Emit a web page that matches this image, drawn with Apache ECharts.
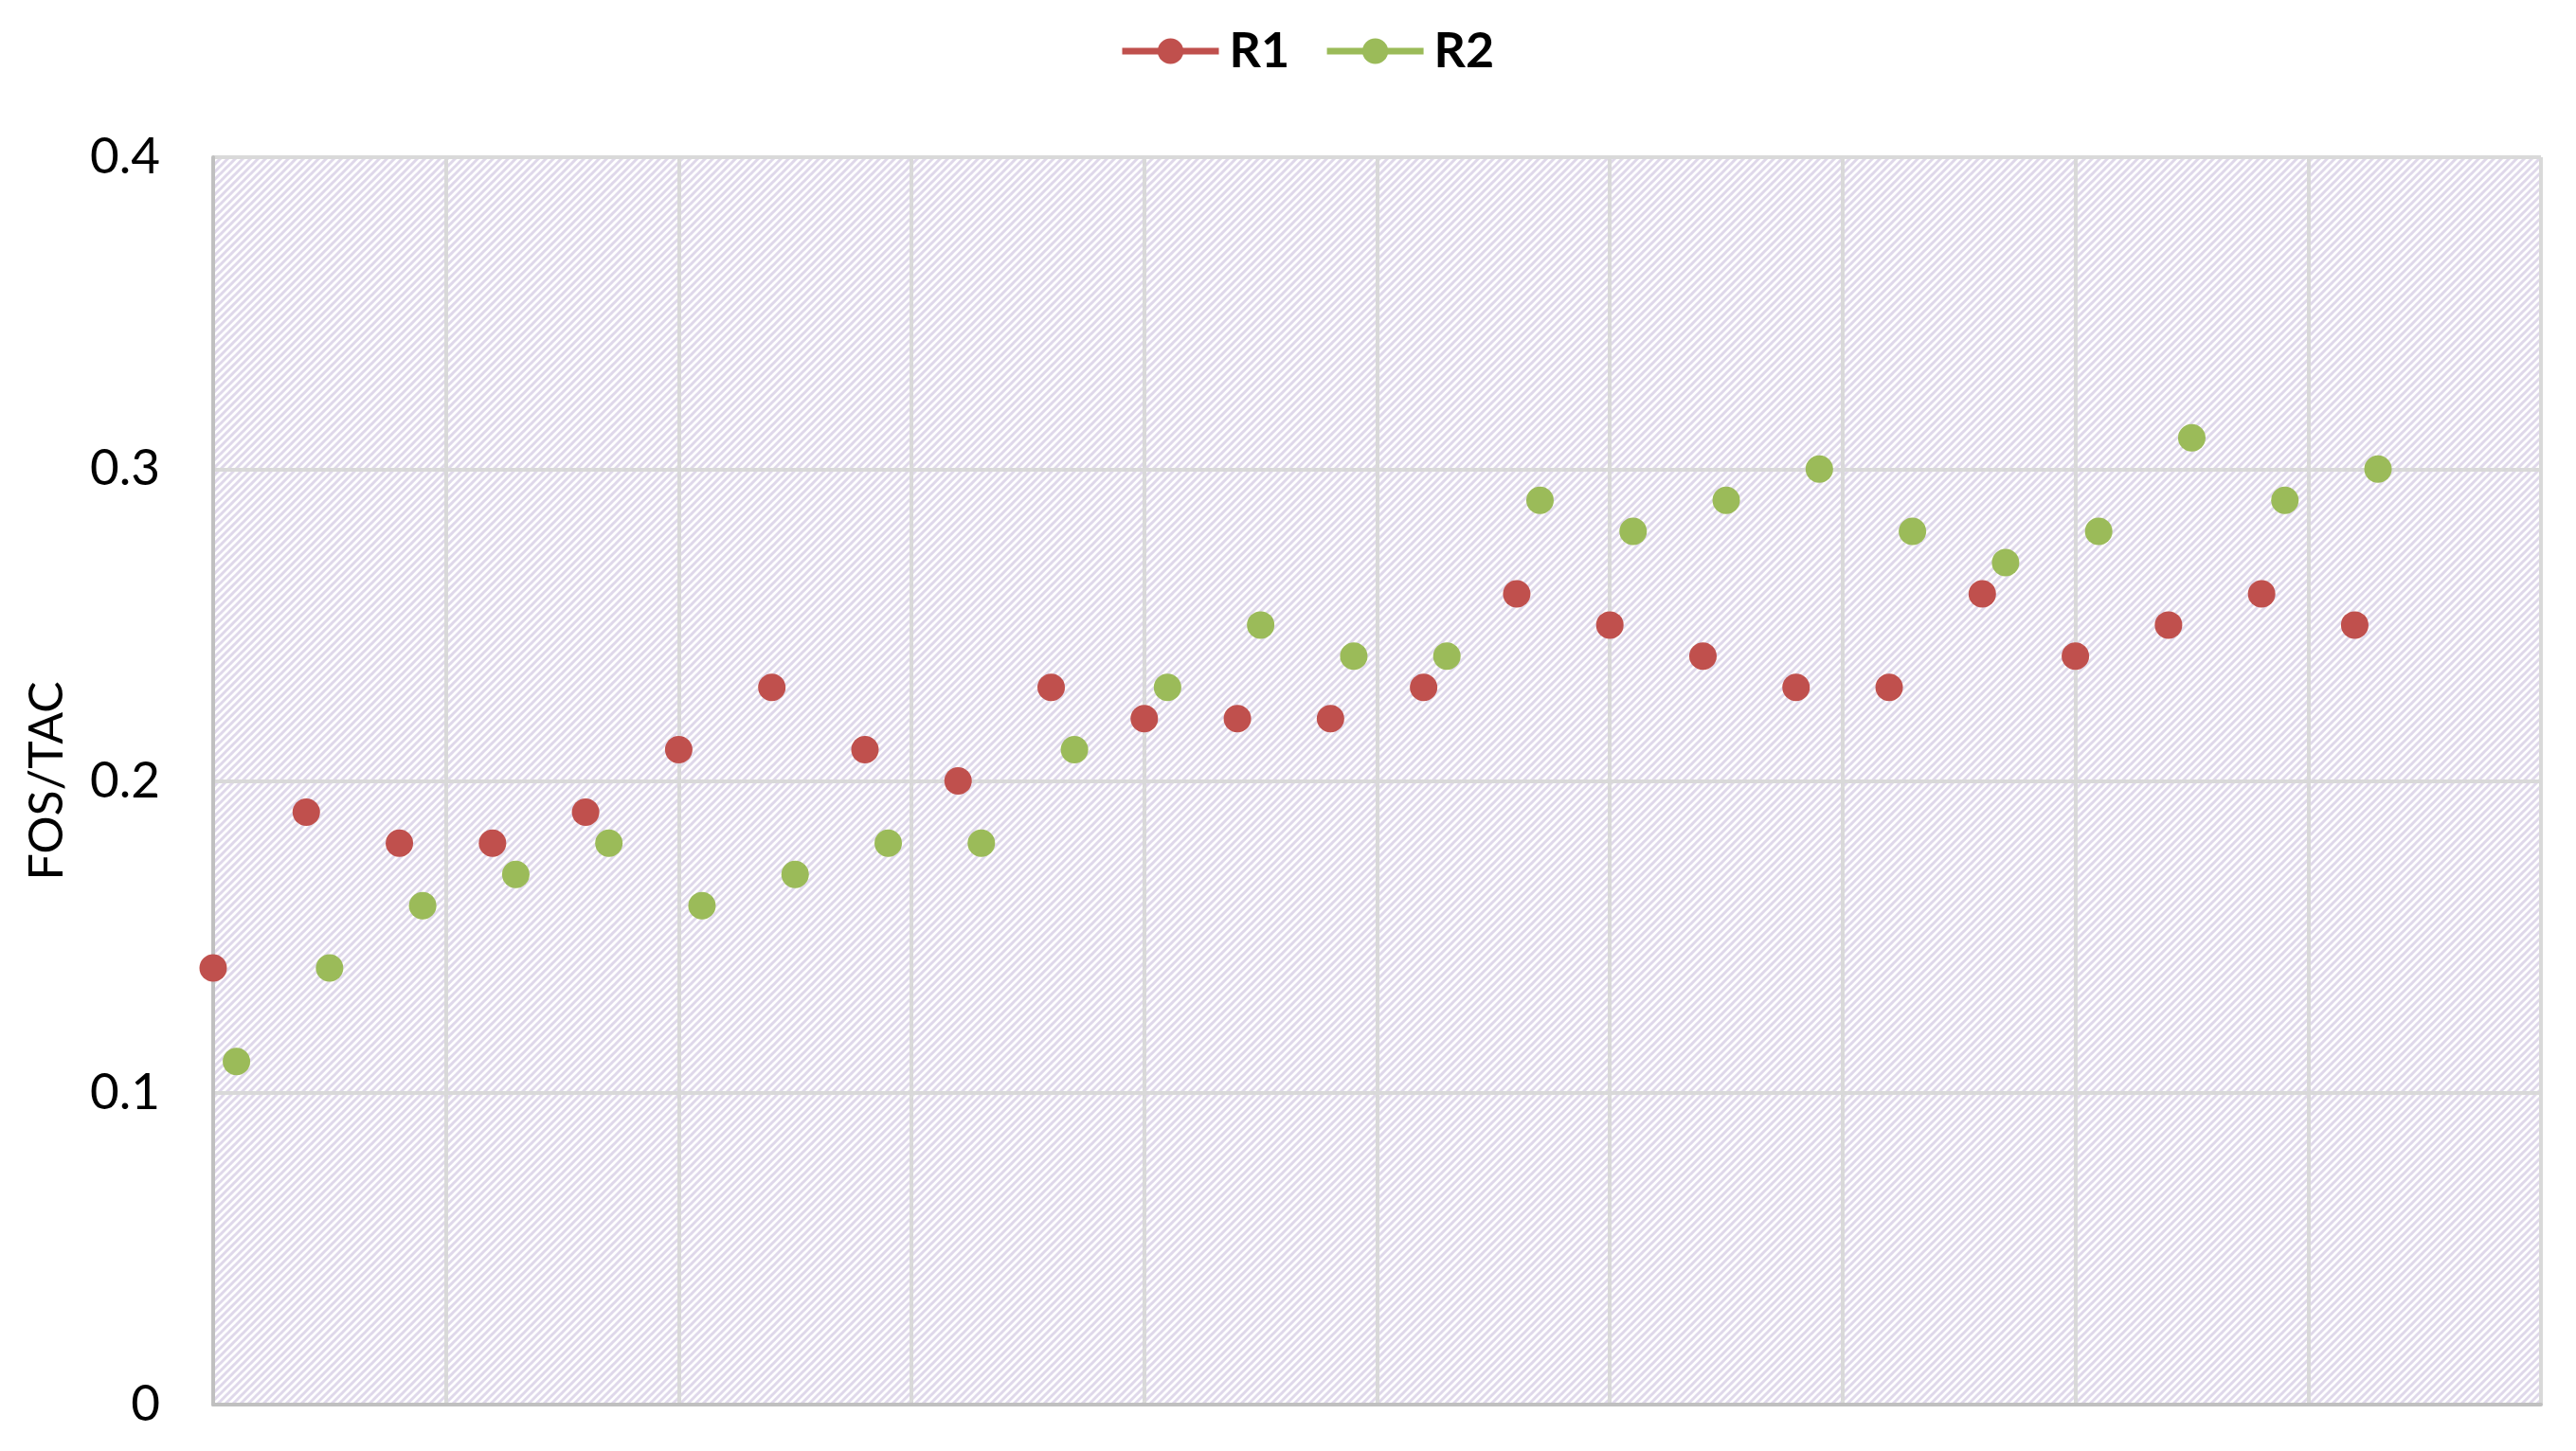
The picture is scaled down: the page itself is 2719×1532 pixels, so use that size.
<!DOCTYPE html>
<html>
<head>
<meta charset="utf-8">
<script src="https://cdn.jsdelivr.net/npm/echarts@6/dist/echarts.min.js"></script>
<style>html,body{margin:0;padding:0;background:#fff;}#c{width:2719px;height:1532px;}</style>
</head>
<body>
<div id="c"></div>
<script>
const seriesNames = ['R1', 'R2'];
const xR1 = [0, 1, 2, 3, 4, 5, 6, 7, 8, 9, 10, 11, 12, 13, 14, 15, 16, 17, 18, 19, 20, 21, 22, 23];
const yR1 = [0.14, 0.19, 0.18, 0.18, 0.19, 0.21, 0.23, 0.21, 0.20, 0.23, 0.22, 0.22, 0.22, 0.23, 0.26, 0.25, 0.24, 0.23, 0.23, 0.26, 0.24, 0.25, 0.26, 0.25];
const xR2 = [0.25, 1.25, 2.25, 3.25, 4.25, 5.25, 6.25, 7.25, 8.25, 9.25, 10.25, 11.25, 12.25, 13.25, 14.25, 15.25, 16.25, 17.25, 18.25, 19.25, 20.25, 21.25, 22.25, 23.25];
const yR2 = [0.11, 0.14, 0.16, 0.17, 0.18, 0.16, 0.17, 0.18, 0.18, 0.21, 0.23, 0.25, 0.24, 0.24, 0.29, 0.28, 0.29, 0.30, 0.28, 0.27, 0.28, 0.31, 0.29, 0.30];
const yTicks = [0, 0.1, 0.2, 0.3, 0.4];
const yAxisName = 'FOS/TAC';

const tile = document.createElement('canvas');
tile.width = 8; tile.height = 8;
const g = tile.getContext('2d');
g.fillStyle = '#ffffff'; g.fillRect(0, 0, 8, 8);
g.strokeStyle = '#dfd8ea'; g.lineWidth = 3;
g.beginPath();
g.moveTo(-2, 10); g.lineTo(10, -2);
g.moveTo(-6, 6); g.lineTo(6, -6);
g.moveTo(2, 14); g.lineTo(14, 2);
g.stroke();

const pair = (xs, ys) => xs.map((x, i) => [x, ys[i]]);

const chart = echarts.init(document.getElementById('c'));
chart.setOption({
  animation: false,
  backgroundColor: '#ffffff',
  legend: {
    top: 23,
    left: 1176,
    itemWidth: 102,
    itemHeight: 34,
    itemGap: 36,
    lineStyle: { width: 7, opacity: 1 },
    textStyle: { fontFamily: 'Lato', fontWeight: 'bold', fontSize: 52, color: '#000', padding: [0, 0, 0, 6] },
    data: seriesNames
  },
  grid: {
    left: 225, right: 37, top: 166, bottom: 49,
    show: true,
    borderWidth: 0,
    backgroundColor: { image: tile, repeat: 'repeat' }
  },
  xAxis: {
    type: 'value',
    min: 0, max: 25, interval: 2.5,
    axisLine: { show: true, lineStyle: { color: '#c0c0c0', width: 4 } },
    axisTick: { show: false },
    axisLabel: { show: false },
    splitLine: { show: true, lineStyle: { color: '#d9d9d9', width: 4 } }
  },
  yAxis: {
    type: 'value',
    min: 0, max: 0.4, interval: 0.1,
    name: yAxisName,
    nameLocation: 'middle',
    nameGap: 150,
    nameTextStyle: { fontFamily: 'Lato', fontSize: 50, color: '#000' },
    axisLine: { show: true, lineStyle: { color: '#c0c0c0', width: 4 } },
    axisTick: { show: false },
    axisLabel: {
      fontFamily: 'Lato', fontSize: 53, color: '#000', margin: 56,
      formatter: v => { const t = yTicks.find(k => Math.abs(k - v) < 1e-9); return t === undefined ? '' : String(t); }
    },
    splitLine: { show: true, lineStyle: { color: '#d9d9d9', width: 4 } }
  },
  series: [
    {
      name: seriesNames[0], type: 'line', data: pair(xR1, yR1),
      symbol: 'circle', symbolSize: 29, showSymbol: true,
      itemStyle: { color: '#c0504d' },
      lineStyle: { width: 0, opacity: 0, color: '#c0504d' },
      z: 3
    },
    {
      name: seriesNames[1], type: 'line', data: pair(xR2, yR2),
      symbol: 'circle', symbolSize: 29, showSymbol: true,
      itemStyle: { color: '#9bbb59' },
      lineStyle: { width: 0, opacity: 0, color: '#9bbb59' },
      z: 3
    }
  ]
});
</script>
</body>
</html>
